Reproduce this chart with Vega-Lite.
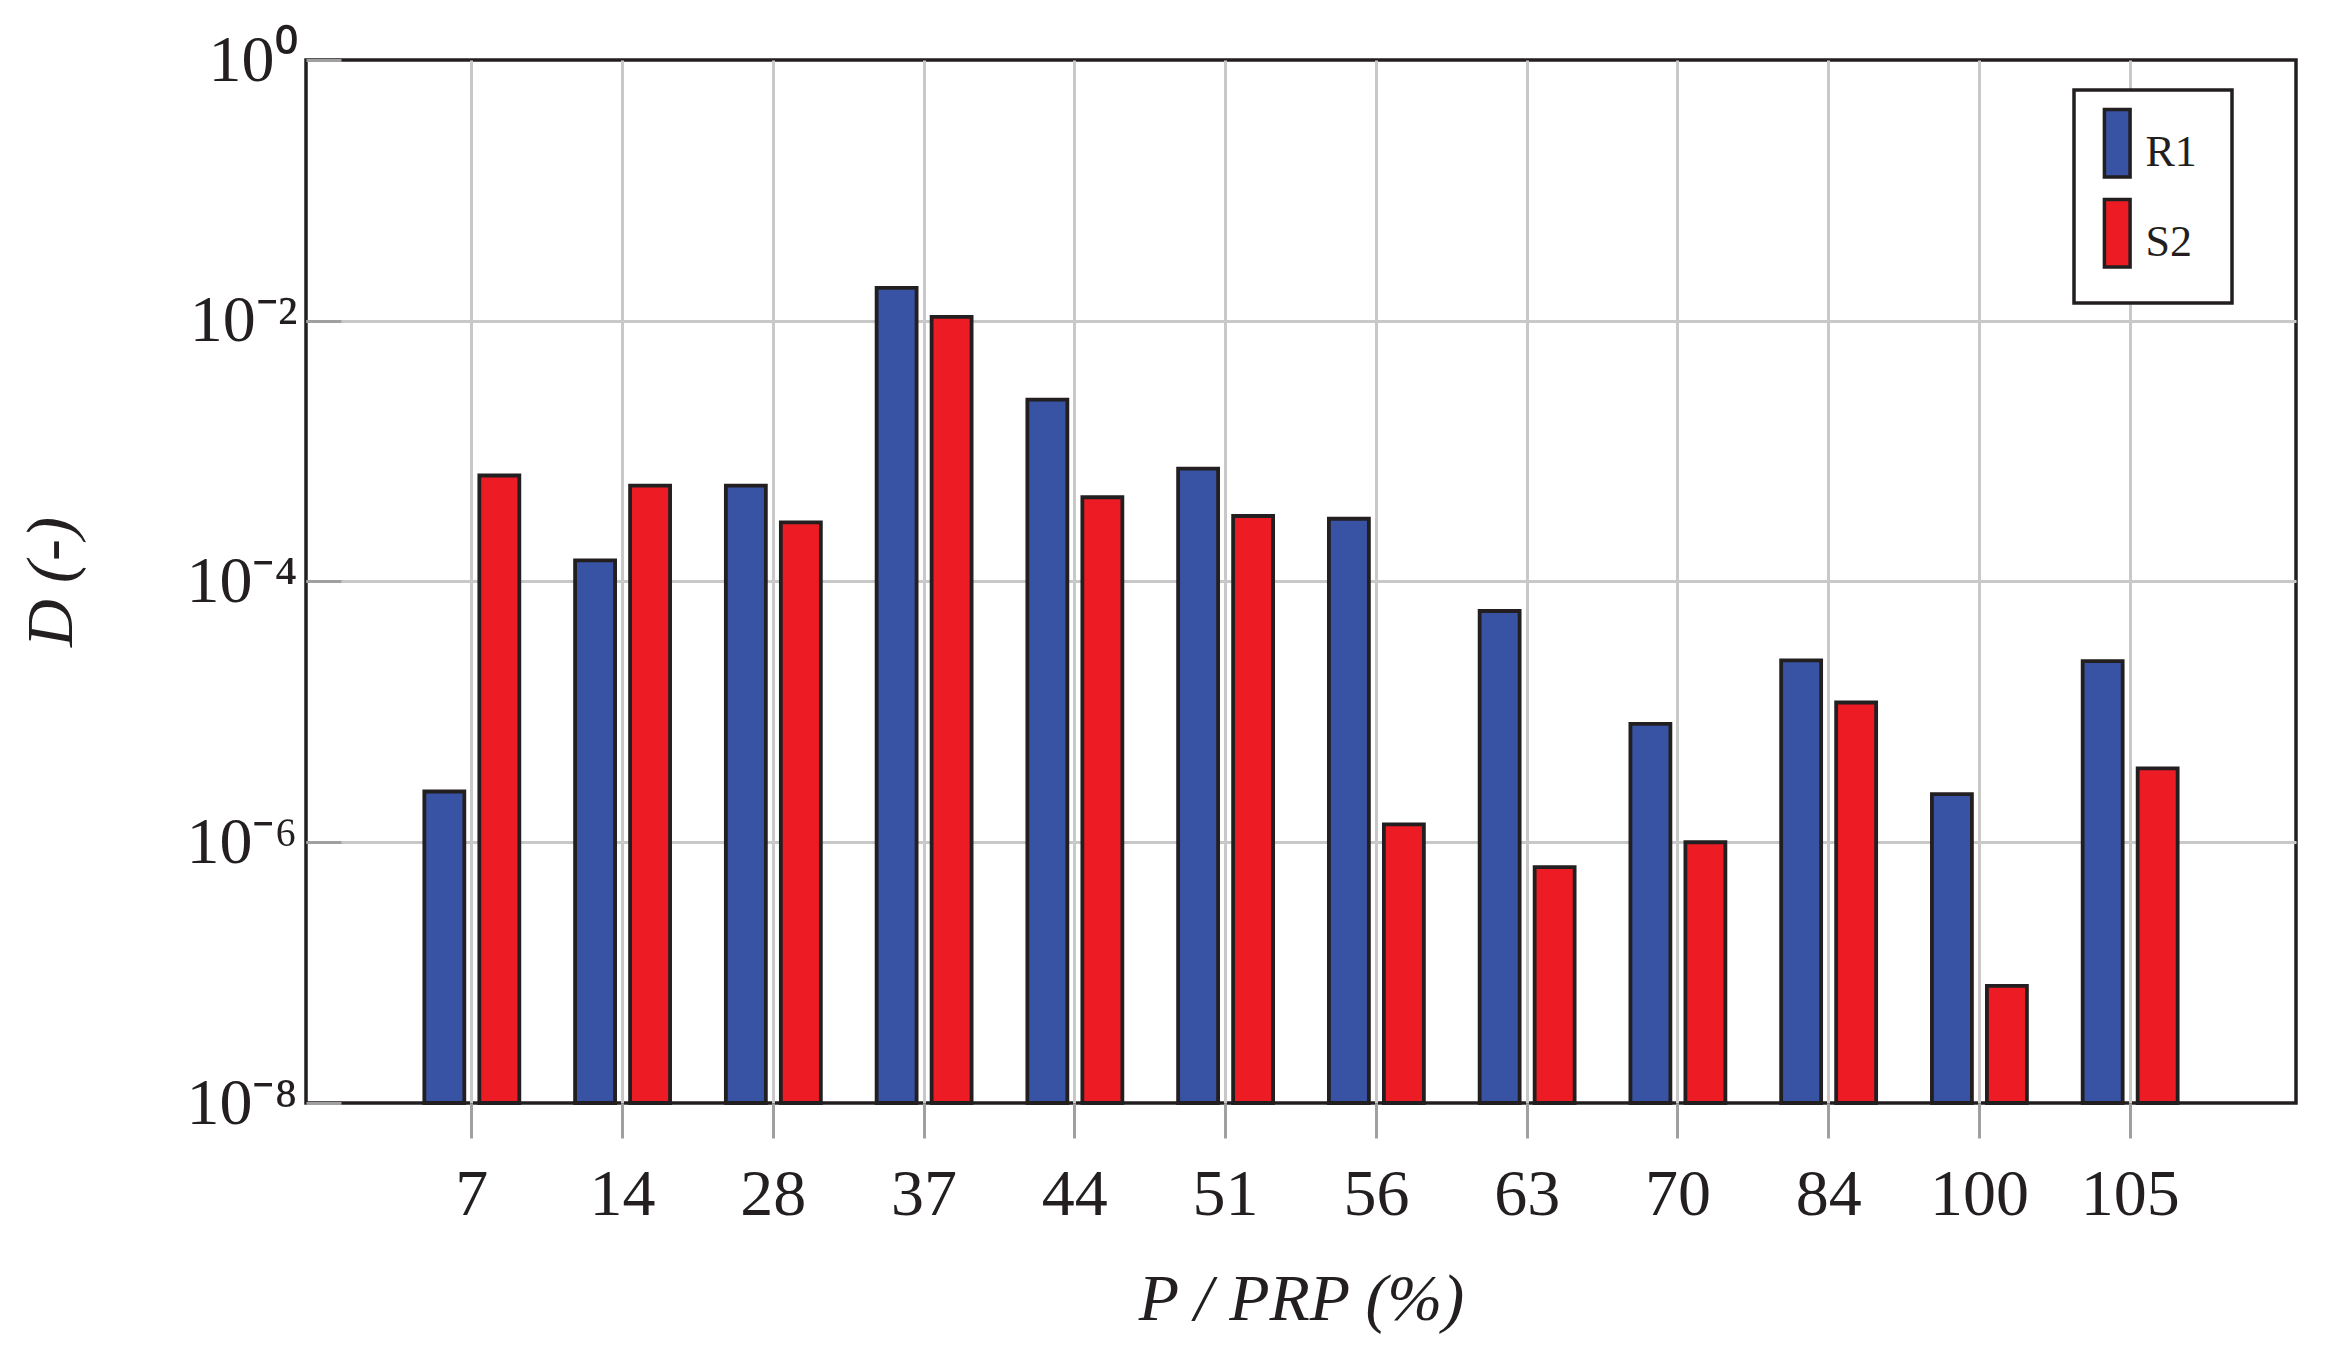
{
  "$schema": "https://vega.github.io/schema/vega-lite/v6.json",
  "width": 1990,
  "height": 1043,
  "autosize": {"type": "none"},
  "padding": {"left": 306, "top": 60, "right": 36, "bottom": 245},
  "background": "white",
  "config": {
    "font": "Liberation Serif",
    "view": {"stroke": "#231F20", "strokeWidth": 3.5},
    "legend": {"strokeWidth": 3.5},
    "axis": {
      "labelFont": "Liberation Serif",
      "titleFont": "Liberation Serif",
      "labelColor": "#231F20",
      "titleColor": "#231F20",
      "labelFontSize": 66,
      "titleFontSize": 66,
      "titleFontWeight": "normal",
      "gridColor": "#C8C8C8",
      "gridWidth": 3,
      "tickColor": "#A0A0A0",
      "tickWidth": 3,
      "domain": false
    }
  },
  "data": {
    "values": [
      {"P": 7, "series": "R1", "D": 2.45e-6},
      {"P": 7, "series": "S2", "D": 6.5e-4},
      {"P": 14, "series": "R1", "D": 1.45e-4},
      {"P": 14, "series": "S2", "D": 5.43e-4},
      {"P": 28, "series": "R1", "D": 5.43e-4},
      {"P": 28, "series": "S2", "D": 2.84e-4},
      {"P": 37, "series": "R1", "D": 1.79e-2},
      {"P": 37, "series": "S2", "D": 1.07e-2},
      {"P": 44, "series": "R1", "D": 2.48e-3},
      {"P": 44, "series": "S2", "D": 4.43e-4},
      {"P": 51, "series": "R1", "D": 7.33e-4},
      {"P": 51, "series": "S2", "D": 3.18e-4},
      {"P": 56, "series": "R1", "D": 3.03e-4},
      {"P": 56, "series": "S2", "D": 1.37e-6},
      {"P": 63, "series": "R1", "D": 5.94e-5},
      {"P": 63, "series": "S2", "D": 6.44e-7},
      {"P": 70, "series": "R1", "D": 8.1e-6},
      {"P": 70, "series": "S2", "D": 1.0e-6},
      {"P": 84, "series": "R1", "D": 2.48e-5},
      {"P": 84, "series": "S2", "D": 1.18e-5},
      {"P": 100, "series": "R1", "D": 2.34e-6},
      {"P": 100, "series": "S2", "D": 7.9e-8},
      {"P": 105, "series": "R1", "D": 2.45e-5},
      {"P": 105, "series": "S2", "D": 3.69e-6}
    ]
  },
  "mark": {"type": "bar", "stroke": "#231F20", "strokeWidth": 3.8},
  "encoding": {
    "x": {
      "field": "P",
      "type": "ordinal",
      "sort": [7, 14, 28, 37, 44, 51, 56, 63, 70, 84, 100, 105],
      "scale": {"paddingInner": 0.37, "paddingOuter": 0.785},
      "axis": {
        "labelAngle": 0,
        "tickSize": 35,
        "labelPadding": 24,
        "grid": true,
        "title": "P / PRP (%)",
        "titleFontStyle": "italic",
        "titlePadding": 40
      }
    },
    "xOffset": {
      "field": "series",
      "type": "nominal",
      "sort": ["R1", "S2"],
      "scale": {"paddingInner": 0.273, "paddingOuter": 0}
    },
    "y": {
      "field": "D",
      "type": "quantitative",
      "scale": {"type": "log", "domain": [1e-8, 1]},
      "axis": {
        "values": [1, 0.01, 0.0001, 0.000001, 0.00000001],
        "grid": true,
        "gridColor": {"condition": {"test": "datum.value > 0.5 || datum.value < 5e-8", "value": "transparent"}, "value": "#C8C8C8"},
        "tickSize": -35,
        "labelPadding": 44,
        "labelExpr": "'10' + (datum.value > 0.5 ? '⁰' : datum.value > 0.005 ? '⁻²' : datum.value > 0.00005 ? '⁻⁴' : datum.value > 0.0000005 ? '⁻⁶' : '⁻⁸')",
        "title": "D (-)",
        "titleFontStyle": "italic",
        "titlePadding": 100
      }
    },
    "y2": {"datum": 1e-8},
    "color": {
      "field": "series",
      "type": "nominal",
      "sort": ["R1", "S2"],
      "scale": {"range": ["#3953A4", "#ED1C24"]},
      "legend": {
        "title": ".",
        "titleOrient": "right",
        "titleColor": "white",
        "titleFontSize": 44,
        "titlePadding": 8,
        "orient": "none",
        "legendX": 1768,
        "legendY": 30,
        "fillColor": "white",
        "strokeColor": "#231F20",
        "padding": 16.5,
        "rowPadding": -5,
        "symbolType": "M-0.725,-0.97H-0.145V0.555H-0.725Z M-0.435,0.83",
        "symbolSize": 7832,
        "symbolStrokeColor": "#231F20",
        "symbolStrokeWidth": 3.5,
        "symbolOpacity": 1,
        "labelFont": "Liberation Serif",
        "labelFontSize": 44,
        "labelColor": "#231F20",
        "labelOffset": -37
      }
    }
  }
}
